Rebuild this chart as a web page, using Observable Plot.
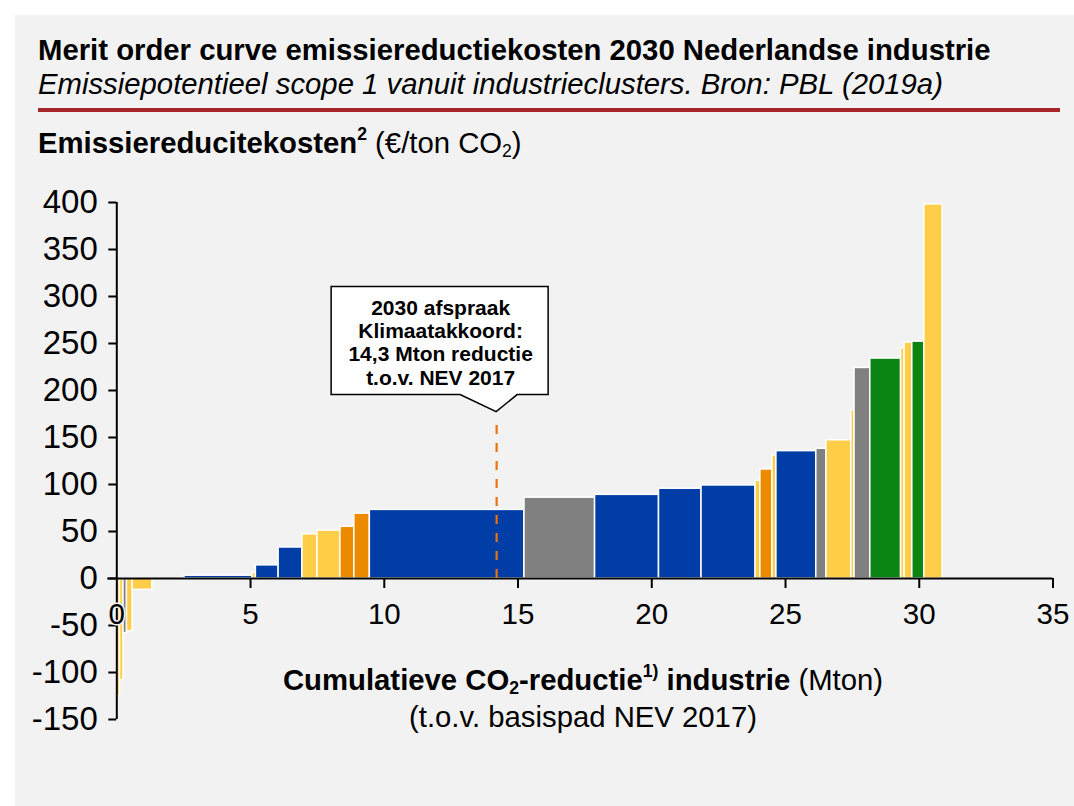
<!DOCTYPE html>
<html><head><meta charset="utf-8">
<script src="https://cdn.jsdelivr.net/npm/d3@7"></script>
<script src="https://cdn.jsdelivr.net/npm/@observablehq/plot@0.6"></script>
<style>
html,body{margin:0;padding:0;background:#fff;}
#page{position:relative;width:1074px;height:806px;overflow:hidden;font-family:"Liberation Sans",Arial,sans-serif;color:#000;}
#panel{position:absolute;left:15px;top:15px;right:0;bottom:0;background:#F2F2F2;}
.t{position:absolute;white-space:nowrap;line-height:29px;font-size:29.3px;}
#title{left:38px;top:35px;font-weight:bold;}
#subtitle{left:38px;top:69px;font-style:italic;}
#redline{position:absolute;left:38px;top:108px;width:1022px;height:4px;background:#A6262B;}
#ytitle{left:38px;top:128px;}
#xtitle1{left:0;width:1166px;text-align:center;top:665px;}
#xtitle2{left:0;width:1166px;text-align:center;top:702px;}
sup{font-size:60%;line-height:0;vertical-align:baseline;position:relative;top:-0.75em;}
sub{font-size:60%;line-height:0;vertical-align:baseline;position:relative;top:0.2em;}
#chart{position:absolute;left:0;top:0;}
</style>
</head><body>
<div id="page">
  <div id="panel"></div>
  <div id="chart"></div>
  <div class="t" id="title">Merit order curve emissiereductiekosten 2030 Nederlandse industrie</div>
  <div class="t" id="subtitle">Emissiepotentieel scope 1 vanuit industrieclusters. Bron: PBL (2019a)</div>
  <div id="redline"></div>
  <div class="t" id="ytitle"><b>Emissiereducitekosten<sup>2</sup></b> (€/ton CO<sub>2</sub>)</div>
  <div class="t" id="xtitle1"><b>Cumulatieve CO<sub>2</sub>-reductie<sup>1)</sup> industrie</b> (Mton)</div>
  <div class="t" id="xtitle2">(t.o.v. basispad NEV 2017)</div>
</div>
<script>
// Breedte (Mton) per maatregel, kosten (€/ton CO2), kleurgroep
const breedte = [0.12,0.13,0.13,0.21,0.74,1.2,2.54,0.13,0.85,0.89,0.56,0.86,0.52,0.58,5.78,2.64,2.39,1.59,2.02,0.18,0.45,0.15,1.49,0.38,0.93,0.12,0.59,1.15,0.13,0.29,0.45,0.68];
const kosten = [-125,-108,-58,-56,-12,-1,3,6,14,33,47,51,55,69,73,86,89,95.5,99,104,116,131,135.5,138,147,179,224,234,245,251,252,398];
const groep = ["geel","geel","grijs","geel","geel","grijs","blauw","geel","blauw","blauw","geel","geel","oranje","oranje","blauw","grijs","blauw","blauw","blauw","geel","oranje","geel","blauw","grijs","geel","geel","grijs","groen","geel","geel","groen","geel"];
const groepen = ["blauw","grijs","geel","oranje","groen"];
const kleuren = ["#003DA6","#808080","#FFCD47","#EC8B00","#0A8412"];

const xTicks = [0,5,10,15,20,25,30,35];
const yTicks = [-150,-100,-50,0,50,100,150,200,250,300,350,400];

const annoX = 14.2;   // Mton
const annoTop = 170;  // top of dashed line
const annoTip = 177;  // tip of callout
const annoLines = ["2030 afspraak","Klimaatakkoord:","14,3 Mton reductie","t.o.v. NEV 2017"];

const eind = d3.cumsum(breedte);
const bars = breedte.map((b, i) => ({x1: eind[i] - b, x2: eind[i], y: kosten[i], g: groep[i]}));

function callout(index, scales) {
  const tx = scales.x(annoX), ty = scales.y(annoTip);
  const L = tx - 165, R = tx + 52, T = ty - 125, B = ty - 17;
  const p1 = tx - 36, p2 = tx + 21;
  const d = `M${L},${T}H${R}V${B}H${p2}L${tx},${ty}L${p1},${B}H${L}Z`;
  return d3.create("svg:path").attr("d", d).attr("fill", "white")
    .attr("stroke", "black").attr("stroke-width", 1.5).node();
}

const chart = Plot.plot({
  width: 1074,
  height: 806,
  marginLeft: 116.3,
  marginRight: 21.5,
  marginTop: 202,
  marginBottom: 87,
  style: {background: "transparent", fontFamily: "'Liberation Sans', Arial, sans-serif", color: "black"},
  x: {domain: [0, 35], axis: null},
  y: {domain: [-150, 400], axis: null},
  color: {domain: groepen, range: kleuren},
  marks: [
    Plot.rect(bars, {x1: "x1", x2: "x2", y1: 0, y2: "y", fill: "g", stroke: "white", strokeWidth: 1.5}),
    Plot.ruleX([0], {y1: -150, y2: 400, stroke: "black", strokeWidth: 2}),
    Plot.ruleY(yTicks, {y: d => d, x1: 0, x2: 0, insetLeft: -8, stroke: "black", strokeWidth: 2}),
    Plot.text(yTicks, {x: 0, y: d => d, text: d => String(d), dx: -19, textAnchor: "end", fontSize: 33, fill: "black"}),
    Plot.text(xTicks, {x: d => d, y: 0, dy: 36, text: d => String(d), fontSize: 29.5, fill: "black", stroke: "#F2F2F2", strokeWidth: 3}),
    Plot.ruleY([0], {stroke: "black", strokeWidth: 2, insetLeft: -9}),
    Plot.ruleX(xTicks.filter(d => d > 0), {x: d => d, y1: 0, y2: 0, insetBottom: -10, stroke: "black", strokeWidth: 2}),
    Plot.ruleX([annoX], {y1: 0, y2: annoTop, stroke: "#E8740C", strokeWidth: 2.2, strokeDasharray: "9,9"}),
    callout,
    Plot.text([annoLines.join("\n")], {x: annoX, y: annoTip, dx: -56, dy: -70, text: d => d, fontSize: 21, fontWeight: "bold", lineHeight: 1.11, fill: "black"})
  ]
});
document.getElementById("chart").appendChild(chart);
</script>
</body></html>
